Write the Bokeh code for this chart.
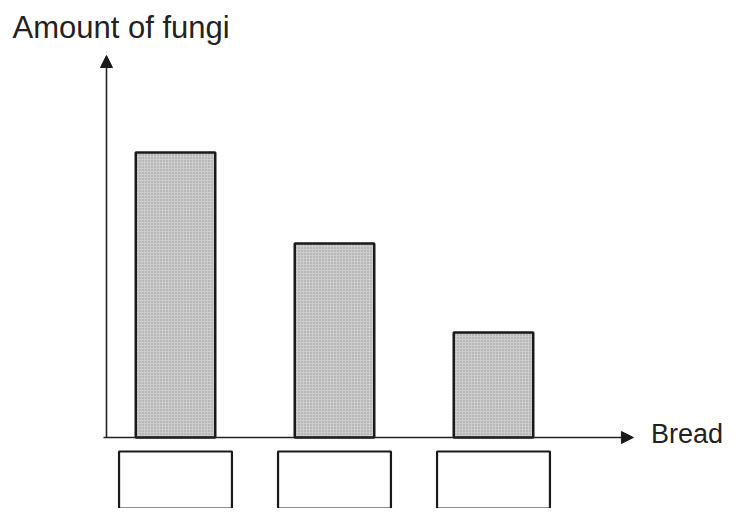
from bokeh.plotting import figure
from bokeh.models import Arrow, NormalHead, Label, Range1d
from bokeh.embed import file_html
from bokeh.resources import INLINE

# Data
breads = ["1", "2", "3"]
positions = [1, 2, 3]
amounts = [28.5, 19.4, 10.5]
y_label = "Amount of fungi"
x_label = "Bread"

p = figure(width=726, height=508, output_backend="svg", toolbar_location=None,
           x_range=Range1d(-0.1006, 4.4654), y_range=Range1d(-7.1, 43.7),
           min_border=0, x_axis_location=None, y_axis_location=None)
p.grid.visible = False
p.outline_line_color = None
p.background_fill_color = "white"
p.border_fill_color = "white"

# bars
p.vbar(x=positions, top=amounts, bottom=0, width=0.5,
       fill_color="#cdcdcd", line_color="#1a1a1a", line_width=2.5,
       hatch_pattern="dot", hatch_color="#6e6e6e", hatch_scale=3, hatch_weight=1, hatch_alpha=0.6)

# empty label boxes under the axis
p.vbar(x=positions, top=-1.4, bottom=-12, width=0.71,
       fill_color="white", line_color="#1a1a1a", line_width=2.2)

# axes with arrows
p.add_layout(Arrow(end=NormalHead(size=12, fill_color="#1a1a1a", line_color="#1a1a1a"),
                   x_start=0.566, y_start=0, x_end=0.566, y_end=38.2,
                   line_color="#222222", line_width=1.6))
p.add_layout(Arrow(end=NormalHead(size=12, fill_color="#1a1a1a", line_color="#1a1a1a"),
                   x_start=0.547, y_start=0, x_end=3.88, y_end=0,
                   line_color="#222222", line_width=1.6))

p.add_layout(Label(x=-0.025, y=41.0, text=y_label, text_font="Liberation Sans",
                   text_font_size="31px", text_color="#222222", text_baseline="alphabetic"))
p.add_layout(Label(x=3.99, y=0.4, text=x_label, text_font="Liberation Sans",
                   text_font_size="27px", text_color="#222222", text_baseline="alphabetic"))

open("out.html", "w").write(file_html(p, INLINE))
